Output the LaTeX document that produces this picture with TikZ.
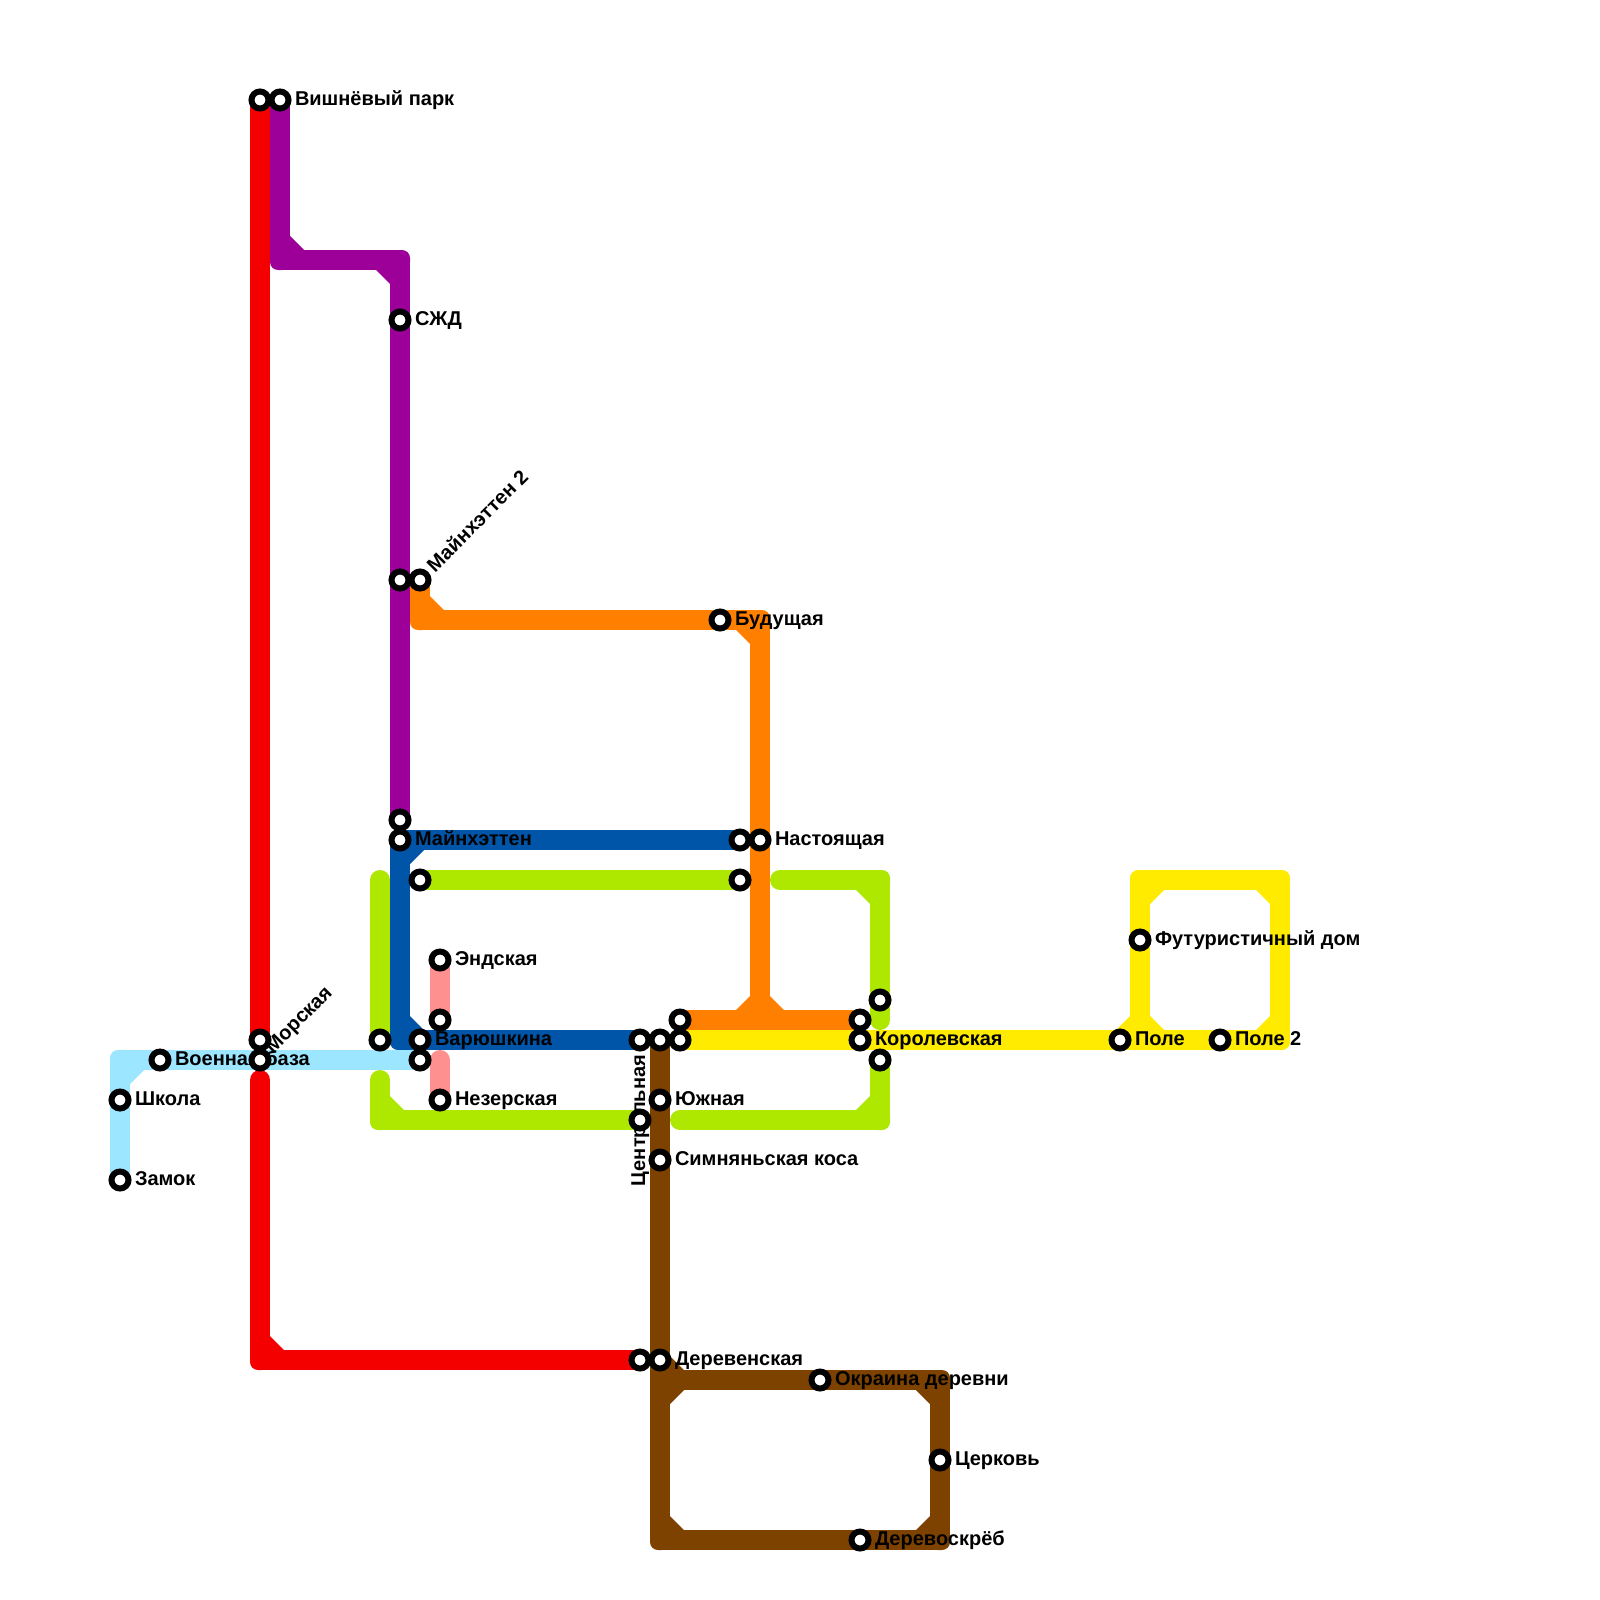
\documentclass[tikz,border=0pt]{standalone}
\usepackage{fontspec}
\setmainfont{Liberation Sans}
\definecolor{cred}{HTML}{F50000}
\definecolor{cpurple}{HTML}{9C0098}
\definecolor{corange}{HTML}{FF8000}
\definecolor{clime}{HTML}{AEE800}
\definecolor{cblue}{HTML}{0055A8}
\definecolor{csky}{HTML}{9CE6FF}
\definecolor{cpink}{HTML}{FF9090}
\definecolor{cyellow}{HTML}{FFEB00}
\definecolor{cbrown}{HTML}{7E4200}
\pgfdeclarelayer{lines}
\pgfdeclarelayer{texts}
\pgfsetlayers{lines,texts,main}
\tikzset{
  stn/.style={circle,draw=black,fill=white,line width=3pt,minimum size=8.5pt,inner sep=0pt,outer sep=0pt},
  ln/.style={line width=10pt,line cap=round,line join=bevel},
  cn/.style={rectangle,fill=#1,rounded corners=4pt,minimum size=10pt,inner sep=0pt,outer sep=0pt},
  lab/.style={anchor=base west,inner sep=0pt,outer sep=0pt,text=black,font=\bfseries\fontsize{10}{12}\selectfont},
}
% inner chamfer: colour, inner corner x,y, direction of arms
\newcommand{\cham}[5]{\fill[#1] (#2,#3) -- ({#2+14*(#4)},#3) -- (#2,{#3+14*(#5)}) -- cycle;}
\begin{document}
\begin{tikzpicture}[x=0.5pt,y=-0.5pt]
\useasboundingbox (0,0) rectangle (1600,1600);
% stations
\node[stn] (zamok) at (120,1180) {};
\node[stn] (shkola) at (120,1100) {};
\node[stn] (voen) at (160,1060) {};
\node[stn] (rtop) at (260,100) {};
\node[stn] (vish) at (280,100) {};
\node[stn] (mors) at (260,1040) {};
\node[stn] (rbaz) at (260,1060) {};
\node[stn] (szd) at (400,320) {};
\node[stn] (pm2) at (400,580) {};
\node[stn] (m2) at (420,580) {};
\node[stn] (pm) at (400,820) {};
\node[stn] (m1) at (400,840) {};
\node[stn] (lim1) at (420,880) {};
\node[stn] (lim2) at (380,1040) {};
\node[stn] (var) at (420,1040) {};
\node[stn] (sky) at (420,1060) {};
\node[stn] (end) at (440,960) {};
\node[stn] (pk) at (440,1020) {};
\node[stn] (nez) at (440,1100) {};
\node[stn] (c1) at (640,1040) {};
\node[stn] (c2) at (660,1040) {};
\node[stn] (c3) at (680,1040) {};
\node[stn] (c4) at (680,1020) {};
\node[stn] (cen) at (640,1120) {};
\node[stn] (yuz) at (660,1100) {};
\node[stn] (sim) at (660,1160) {};
\node[stn] (rd) at (640,1360) {};
\node[stn] (der) at (660,1360) {};
\node[stn] (okr) at (820,1380) {};
\node[stn] (cer) at (940,1460) {};
\node[stn] (dsk) at (860,1540) {};
\node[stn] (bud) at (720,620) {};
\node[stn] (nas) at (760,840) {};
\node[stn] (bl) at (740,840) {};
\node[stn] (li) at (740,880) {};
\node[stn] (k1) at (860,1020) {};
\node[stn] (kor) at (860,1040) {};
\node[stn] (k2) at (880,1000) {};
\node[stn] (k3) at (880,1060) {};
\node[stn] (pol) at (1120,1040) {};
\node[stn] (pol2) at (1220,1040) {};
\node[stn] (fut) at (1140,940) {};
\begin{pgfonlayer}{texts}
\node[lab] (tzam) at (135,1185) {Замок};
\node[lab] (tshk) at (135,1105) {Школа};
\node[lab] (tvoe) at (175,1065) {Военная база};
\node[lab] (tvis) at (295,105) {Вишнёвый парк};
\node[lab] (tszd) at (415,325) {СЖД};
\node[lab,rotate=45] (tm2) at (435,573) {Майнхэттен 2};
\node[lab,rotate=45] (tmor) at (273,1054) {Морская};
\node[lab,rotate=90] (tcen) at (645,1186) {Центральная};
\node[lab] (tm1) at (415,845) {Майнхэттен};
\node[lab] (tbud) at (735,625) {Будущая};
\node[lab] (tnas) at (775,845) {Настоящая};
\node[lab] (tend) at (455,965) {Эндская};
\node[lab] (tnez) at (455,1105) {Незерская};
\node[lab] (tvar) at (435,1045) {Варюшкина};
\node[lab] (tkor) at (875,1045) {Королевская};
\node[lab] (tpol) at (1135,1045) {Поле};
\node[lab] (tpo2) at (1235,1045) {Поле 2};
\node[lab] (tfut) at (1155,945) {Футуристичный дом};
\node[lab] (tyuz) at (675,1105) {Южная};
\node[lab] (tsim) at (675,1165) {Симняньская коса};
\node[lab] (tder) at (675,1365) {Деревенская};
\node[lab] (tokr) at (835,1385) {Окраина деревни};
\node[lab] (tcer) at (955,1465) {Церковь};
\node[lab] (tdsk) at (875,1545) {Деревоскрёб};
\end{pgfonlayer}
\begin{pgfonlayer}{lines}
\fill[white] (0,0) rectangle (1600,1600);
% lime
\node[cn=clime] (la) at (380,1120) {};
\node[cn=clime] (lb) at (880,1120) {};
\node[cn=clime] (lc) at (880,880) {};
\coordinate (lf1) at (380,880);
\coordinate (lf2) at (380,1080);
\coordinate (lf3) at (680,1120);
\coordinate (lf4) at (780,880);
\coordinate (lf5) at (880,1020);
\draw[ln,clime] (lf1) -- (lim2.center);
\draw[ln,clime] (lf2) -- (la.center) -- (cen.center);
\draw[ln,clime] (lf3) -- (lb.center) -- (k3.center);
\draw[ln,clime] (lf4) -- (lc.center) -- (k2.center) -- (lf5);
\draw[ln,clime] (lim1.center) -- (li.center);
\cham{clime}{390}{1110}{1}{-1}
\cham{clime}{870}{890}{-1}{1}
\cham{clime}{870}{1110}{-1}{-1}
% red
\node[cn=cred] (ra) at (260,1360) {};
\coordinate (rf) at (260,1080);
\draw[ln,cred] (rtop.center) -- (mors.center);
\draw[ln,cred] (rf) -- (ra.center) -- (rd.center);
\cham{cred}{270}{1350}{1}{-1}
% purple
\node[cn=cpurple] (pa) at (280,260) {};
\node[cn=cpurple] (pb) at (400,260) {};
\draw[ln,cpurple] (vish.center) -- (pa.center) -- (pb.center) -- (szd.center) -- (pm2.center) -- (pm.center);
\cham{cpurple}{290}{250}{1}{-1}
\cham{cpurple}{390}{270}{-1}{1}
% orange
\node[cn=corange] (oa) at (420,620) {};
\node[cn=corange] (ob) at (760,620) {};
\coordinate (oj) at (760,1020);
\draw[ln,corange] (m2.center) -- (oa.center) -- (bud.center) -- (ob.center) -- (nas.center) -- (oj);
\draw[ln,corange] (c4.center) -- (k1.center);
\cham{corange}{430}{610}{1}{-1}
\cham{corange}{750}{630}{-1}{1}
\cham{corange}{750}{1010}{-1}{-1}
\cham{corange}{770}{1010}{1}{-1}
% dark blue
\node[cn=cblue] (ba) at (400,1040) {};
\draw[ln,cblue] (bl.center) -- (m1.center) -- (ba.center) -- (var.center) -- (c1.center);
\cham{cblue}{410}{850}{1}{1}
\cham{cblue}{410}{1030}{1}{-1}
% pink
\draw[ln,cpink] (end.center) -- (pk.center);
\coordinate (pf) at (440,1060);
\draw[ln,cpink] (pf) -- (nez.center);
% yellow
\node[cn=cyellow] (ya) at (1280,1040) {};
\node[cn=cyellow] (yb) at (1280,880) {};
\node[cn=cyellow] (yc) at (1140,880) {};
\coordinate (yj) at (1140,1040);
\draw[ln,cyellow] (c3.center) -- (kor.center) -- (pol.center) -- (pol2.center) -- (ya.center) -- (yb.center) -- (yc.center) -- (fut.center) -- (yj);
\cham{cyellow}{1150}{890}{1}{1}
\cham{cyellow}{1270}{890}{-1}{1}
\cham{cyellow}{1270}{1030}{-1}{-1}
\cham{cyellow}{1150}{1030}{1}{-1}
\cham{cyellow}{1130}{1030}{-1}{-1}
% brown
\node[cn=cbrown] (da) at (660,1540) {};
\node[cn=cbrown] (db) at (940,1540) {};
\node[cn=cbrown] (dc) at (940,1380) {};
\coordinate (dj) at (660,1380);
\draw[ln,cbrown] (c2.center) -- (yuz.center) -- (sim.center) -- (der.center) -- (da.center) -- (dsk.center) -- (db.center) -- (cer.center) -- (dc.center) -- (okr.center) -- (dj);
\cham{cbrown}{670}{1390}{1}{1}
\cham{cbrown}{930}{1390}{-1}{1}
\cham{cbrown}{930}{1530}{-1}{-1}
\cham{cbrown}{670}{1530}{1}{-1}
\cham{cbrown}{670}{1370}{1}{-1}
% sky
\node[cn=csky] (sa) at (120,1060) {};
\draw[ln,csky] (zamok.center) -- (shkola.center) -- (sa.center) -- (voen.center) -- (rbaz.center) -- (sky.center);
\cham{csky}{130}{1070}{1}{1}
\end{pgfonlayer}
\end{tikzpicture}
\end{document}
